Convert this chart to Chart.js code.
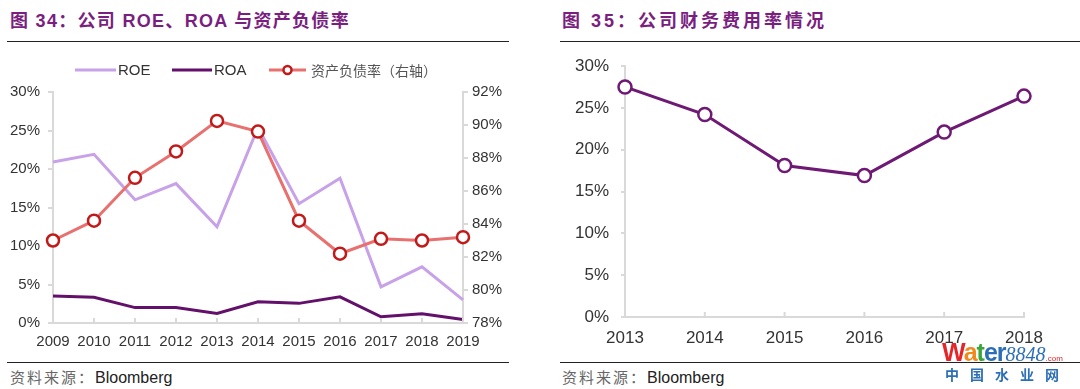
<!DOCTYPE html>
<html>
<head>
<meta charset="utf-8">
<script src="https://cdn.jsdelivr.net/npm/chart.js@4.4.1/dist/chart.umd.min.js"></script>
<style>
  html, body { margin: 0; padding: 0; background: #fff; }
  body { width: 1080px; height: 389px; position: relative; overflow: hidden;
         font-family: 'Liberation Sans', 'Noto Sans CJK SC', sans-serif; }
  .title { position: absolute; top: 6px; font-size: 18px; font-weight: bold; color: #7a1f80;
           font-family: 'Liberation Sans', 'Noto Sans CJK SC', sans-serif; letter-spacing: 1.3px; }
  .rule { position: absolute; height: 0; border-top: 1.5px solid #222; }
  .src { position: absolute; top: 366px; font-size: 16px; color: #222; }
  .src span { color: #666; font-family: 'Noto Sans CJK SC', sans-serif; font-size: 15px; letter-spacing: 2px; }
  canvas { position: absolute; }
  .wm { position: absolute; left: 942px; top: 340px; font-weight: bold; line-height: 1; }
  .wm .w { font-size: 25px; font-family: 'Liberation Sans', sans-serif; letter-spacing: -1px; }
  .wm .n { color: #2d6fb7; font-size: 20px; font-style: italic; font-weight: normal; font-family: 'Liberation Serif', serif; }
  .wm .c { color: #e3262a; font-size: 8px; font-weight: normal; }
  .wm2 { position: absolute; left: 945px; top: 364px; color: #2d6fb7; font-size: 14px; font-weight: bold;
         letter-spacing: 11px; font-family: 'Noto Sans CJK SC', sans-serif; }
</style>
</head>
<body>
<div class="title" style="left:10px">图 34：公司 ROE、ROA 与资产负债率</div>
<div class="rule" style="left:7px; width:502px; top:41px"></div>
<div class="title" style="left:562px; letter-spacing:3px">图 35：公司财务费用率情况</div>
<div class="rule" style="left:560px; width:520px; top:41px"></div>

<canvas id="c1" width="540" height="298" style="left:0; top:55px; width:540px; height:298px"></canvas>
<canvas id="c2" width="540" height="310" style="left:540px; top:50px; width:540px; height:310px"></canvas>

<div class="rule" style="left:7px; width:502px; top:362px"></div>
<div class="rule" style="left:560px; width:520px; top:362px"></div>
<div class="src" style="left:10px"><span>资料来源：</span>Bloomberg</div>
<div class="src" style="left:562px"><span>资料来源：</span>Bloomberg</div>
<div class="wm"><span class="w" style="color:#e3262a">W</span><span class="w" style="color:#f08a1c">a</span><span class="w" style="color:#3aa53a">t</span><span class="w" style="color:#2d6fb7">er</span><span class="n">8848</span><span class="c">.com</span></div>
<div class="wm2">中国水业网</div>

<script>
// chart 34
const years1 = ['2009','2010','2011','2012','2013','2014','2015','2016','2017','2018','2019'];
const roe = [20.9, 21.9, 16.0, 18.1, 12.5, 25.4, 15.5, 18.8, 4.7, 7.3, 3.0];
const roa = [3.5, 3.35, 2.0, 2.0, 1.25, 2.75, 2.55, 3.4, 0.8, 1.2, 0.45];
const debtRatio = [83.0, 84.2, 86.8, 88.4, 90.25, 89.6, 84.2, 82.2, 83.1, 83.0, 83.2];
const leftTicks = [0, 5, 10, 15, 20, 25, 30];
const rightTicks = [78, 80, 82, 84, 86, 88, 90, 92];

// chart 35
const years2 = ['2013','2014','2015','2016','2017','2018'];
const finCostRate = [27.5, 24.2, 18.1, 16.9, 22.1, 26.4];
const finTicks = [0, 5, 10, 15, 20, 25, 30];

const axisGrey = '#d9d9d9';
const textCol = '#333';

// small tick marks pointing up from the x axis
const upTicks = {
    id: 'upTicks',
    afterDatasetsDraw(chart) {
        const x = chart.scales.x;
        const ctx = chart.ctx;
        ctx.save();
        ctx.strokeStyle = axisGrey;
        ctx.lineWidth = 2;
        x.ticks.forEach((t, i) => {
            const px = x.getPixelForTick(i);
            ctx.beginPath();
            ctx.moveTo(px, x.top);
            ctx.lineTo(px, x.top - 5);
            ctx.stroke();
        });
        ctx.restore();
    }
};

// legend for chart 34: line samples like the original
const lineLegend = {
    id: 'lineLegend',
    afterDraw(chart) {
        const ctx = chart.ctx;
        const y = 15;
        const items = [
            { ds: 0, x0: 75, x1: 116, tx: 118 },
            { ds: 1, x0: 172, x1: 212, tx: 214 },
            { ds: 2, x0: 269, x1: 306, tx: 311 }
        ];
        ctx.save();
        items.forEach(it => {
            const ds = chart.data.datasets[it.ds];
            ctx.strokeStyle = ds.borderColor;
            ctx.lineWidth = ds.borderWidth;
            ctx.beginPath();
            ctx.moveTo(it.x0, y);
            ctx.lineTo(it.x1, y);
            ctx.stroke();
            if (ds.pointRadius > 0) {
                ctx.beginPath();
                ctx.arc((it.x0 + it.x1) / 2, y, ds.pointRadius - 2, 0, Math.PI * 2);
                ctx.fillStyle = ds.pointBackgroundColor;
                ctx.fill();
                ctx.lineWidth = ds.pointBorderWidth;
                ctx.strokeStyle = ds.pointBorderColor;
                ctx.stroke();
            }
            const latin = /[A-Z]/.test(ds.label);
            ctx.fillStyle = latin ? textCol : '#555';
            ctx.textBaseline = 'middle';
            ctx.font = latin ? '15px "Liberation Sans"' : '14px "Noto Sans CJK SC"';
            ctx.fillText(ds.label, it.tx, y + 1);
        });
        ctx.restore();
    }
};

Chart.defaults.font.family = "'Liberation Sans', Arial, sans-serif";
Chart.defaults.color = textCol;
Chart.defaults.animation = false;

new Chart(document.getElementById('c1'), {
    type: 'line',
    data: {
        labels: years1,
        datasets: [
            {
                label: 'ROE',
                data: roe,
                yAxisID: 'y',
                borderColor: '#c8a2e8',
                borderWidth: 3,
                pointRadius: 0,
                tension: 0,
                order: 3
            },
            {
                label: 'ROA',
                data: roa,
                yAxisID: 'y',
                borderColor: '#63106a',
                borderWidth: 3,
                pointRadius: 0,
                tension: 0,
                order: 2
            },
            {
                label: '资产负债率（右轴）',
                data: debtRatio,
                yAxisID: 'y1',
                borderColor: '#e8706e',
                borderWidth: 3,
                pointRadius: 6,
                pointBackgroundColor: '#fff',
                pointBorderColor: '#c01a1a',
                pointBorderWidth: 2.5,
                tension: 0,
                order: 1
            }
        ]
    },
    options: {
        responsive: false,
        layout: { padding: { top: 37, left: 0, right: 0, bottom: 0 } },
        plugins: { legend: { display: false }, tooltip: { enabled: false } },
        scales: {
            x: {
                offset: false,
                grid: { display: false },
                border: { color: axisGrey, width: 2 },
                ticks: { font: { size: 15 }, padding: 2, maxRotation: 0, autoSkip: false },
                afterFit: s => { s.height = 30; }
            },
            y: {
                position: 'left',
                min: 0, max: 30,
                afterBuildTicks: s => { s.ticks = leftTicks.map(v => ({ value: v })); },
                grid: { drawOnChartArea: false, color: axisGrey, tickLength: 5, lineWidth: 2 },
                border: { color: axisGrey, width: 2 },
                ticks: { font: { size: 15 }, padding: 8, callback: v => v + '%' },
                afterFit: s => { s.width = 53; }
            },
            y1: {
                position: 'right',
                min: 78, max: 92,
                afterBuildTicks: s => { s.ticks = rightTicks.map(v => ({ value: v })); },
                grid: { drawOnChartArea: false, color: axisGrey, tickLength: 5, lineWidth: 2 },
                border: { color: axisGrey, width: 2 },
                ticks: { font: { size: 15 }, padding: 4, callback: v => v + '%' },
                afterFit: s => { s.width = 77; }
            }
        }
    },
    plugins: [upTicks, lineLegend]
});

new Chart(document.getElementById('c2'), {
    type: 'line',
    data: {
        labels: years2,
        datasets: [{
            label: '财务费用率',
            data: finCostRate,
            borderColor: '#6e1a74',
            borderWidth: 3,
            pointRadius: 6.5,
            pointBackgroundColor: '#fff',
            pointBorderColor: '#6e1a74',
            pointBorderWidth: 2.5,
            tension: 0
        }]
    },
    options: {
        responsive: false,
        layout: { autoPadding: false, padding: { top: 16, left: 0, right: 56, bottom: 0 } },
        plugins: { legend: { display: false }, tooltip: { enabled: false } },
        scales: {
            x: {
                offset: false,
                grid: { display: false },
                border: { color: axisGrey, width: 2 },
                ticks: { font: { size: 17 }, padding: 3, maxRotation: 0, autoSkip: false },
                afterFit: s => { s.height = 43; }
            },
            y: {
                min: 0, max: 30,
                afterBuildTicks: s => { s.ticks = finTicks.map(v => ({ value: v })); },
                grid: { drawOnChartArea: false, color: axisGrey, tickLength: 4, lineWidth: 2 },
                border: { color: axisGrey, width: 2 },
                ticks: { font: { size: 17 }, padding: 12, callback: v => v + '%' },
                afterFit: s => { s.width = 85; s.paddingTop = 10; s.paddingBottom = 10; }
            }
        }
    },
    plugins: [upTicks]
});
</script>
</body>
</html>
